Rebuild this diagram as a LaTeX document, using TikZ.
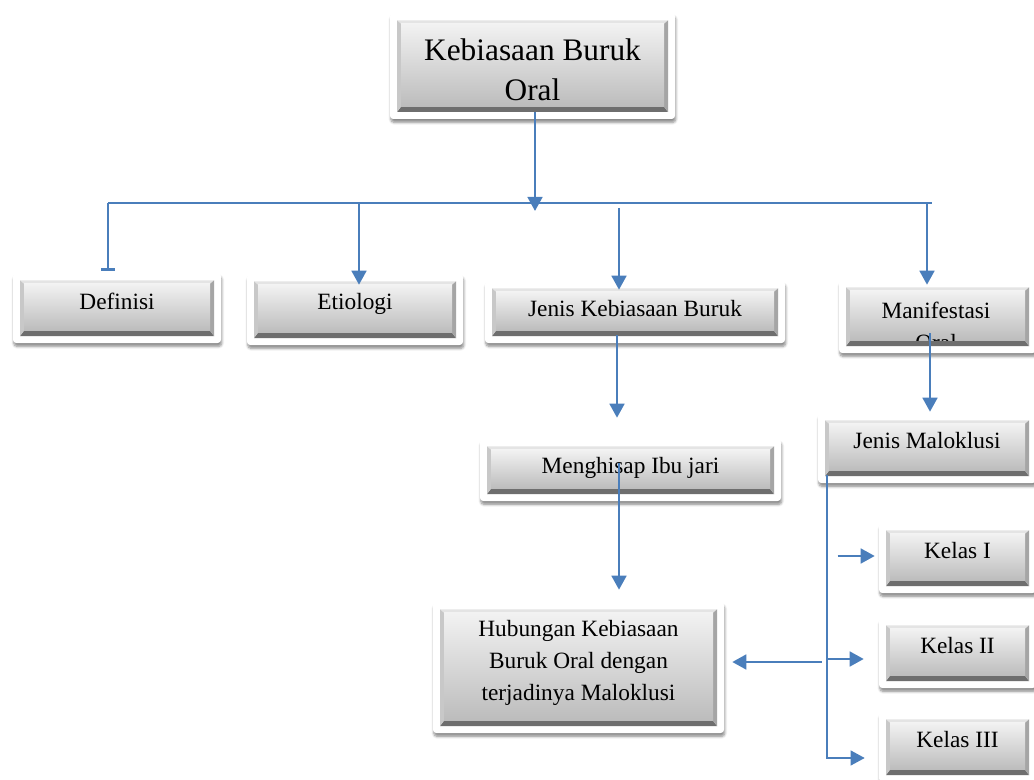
\documentclass[tikz,border=0pt]{standalone}
\usepackage{fontspec}
\setmainfont{Liberation Serif}
\usetikzlibrary{arrows.meta,positioning,calc,shadows.blur}

\definecolor{linkblue}{RGB}{74,126,187}
\definecolor{bevtop}{RGB}{228,228,228}
\definecolor{bevleft}{RGB}{200,200,200}
\definecolor{bevright}{RGB}{165,165,165}
\definecolor{bevbot}{RGB}{110,110,110}
\definecolor{facetop}{RGB}{242,242,242}
\definecolor{facebot}{RGB}{188,188,188}

\tikzset{
  bevelbox/.style={rectangle, rounded corners=2.5pt, fill=white, inner sep=0pt, align=center,
    font=\fontsize{17.5}{24}\selectfont,
    blur shadow={shadow xshift=0.6pt, shadow yshift=-2.6pt, shadow blur steps=6, shadow opacity=45},
    path picture={
      \coordinate (bsw) at ([shift={(5.25pt,5.25pt)}]path picture bounding box.south west);
      \coordinate (bne) at ([shift={(-5.25pt,-5.6pt)}]path picture bounding box.north east);
      \coordinate (bnw) at (bsw |- bne);
      \coordinate (bse) at (bne |- bsw);
      \coordinate (fsw) at ([shift={(3pt,4pt)}]bsw);
      \coordinate (fne) at ([shift={(-3pt,-2.5pt)}]bne);
      \coordinate (fnw) at (fsw |- fne);
      \coordinate (fse) at (fne |- fsw);
      \fill[bevtop, sharp corners] (bnw) -- (bne) -- (fne) -- (fnw) -- cycle;
      \fill[bevbot, sharp corners] (bsw) -- (bse) -- (fse) -- (fsw) -- cycle;
      \fill[bevleft, sharp corners] (bsw) -- (bnw) -- (fnw) -- (fsw) -- cycle;
      \fill[bevright, sharp corners] (bse) -- (bne) -- (fne) -- (fse) -- cycle;
      \shade[top color=facetop, bottom color=facebot, sharp corners] (fsw) rectangle (fne);
    }},
  onerow/.style={text height=12pt, text depth=#1},
  flow/.style={draw=linkblue, line width=1.9pt, -{Triangle[width=11pt,length=10.5pt]}},
  bus/.style={draw=linkblue, line width=1.5pt}
}

\begin{document}
\begin{tikzpicture}[x=0.75pt,y=-0.75pt]
\useasboundingbox (0,0) rectangle (1034,780);

% Top box
\node[bevelbox, minimum width=213.75pt, minimum height=79.5pt, font=\fontsize{23.5}{30}\selectfont] (top) at (532.5,66) {\rule{0pt}{22pt}Kebiasaan Buruk\\Oral};

% Second row
\node[bevelbox, onerow=9.5pt, minimum width=156pt, minimum height=52.5pt] (def) at (117,308) {Definisi};
\node[bevelbox, onerow=12pt, minimum width=162pt, minimum height=53.25pt] (eti) at (355,309.5) {Etiologi};
\node[bevelbox, onerow=5pt, minimum width=225pt, minimum height=46.5pt] (jenis) at (635,312) {Jenis Kebiasaan Buruk};
\node[bevelbox, minimum width=147.75pt, minimum height=54.75pt] (mani) at (937.5,316.5) {};
\begin{scope}
  \clip (848,290) rectangle (1027,340.5);
  \node[anchor=base, font=\fontsize{17.5}{24}\selectfont] (manitop) at (936,318.5) {Manifestasi};
  \node[anchor=base, font=\fontsize{17.5}{24}\selectfont] (manibot) at (936,350.5) {Oral};
\end{scope}

% Lower boxes
\node[bevelbox, onerow=6.5pt, minimum width=225.75pt, minimum height=46.5pt] (meng) at (630.5,470) {Menghisap Ibu jari};
\node[bevelbox, minimum width=218.25pt, minimum height=98.25pt] (hub) at (578.5,667.5) {Hubungan Kebiasaan\\Buruk Oral dengan\\terjadinya Maloklusi\rule[-11pt]{0pt}{0pt}};
\node[bevelbox, onerow=12pt, minimum width=163.5pt, minimum height=52.5pt] (jm) at (927,448) {Jenis Maloklusi};
\node[bevelbox, onerow=12pt, minimum width=117.75pt, minimum height=52.5pt] (k1) at (957.5,558) {Kelas I};
\node[bevelbox, onerow=12pt, minimum width=117.75pt, minimum height=52.5pt] (k2) at (957.5,653) {Kelas II};
\node[bevelbox, onerow=12pt, minimum width=117.75pt, minimum height=52.5pt] (k3) at (957.5,747) {Kelas III};

% Bus under the top box
\coordinate (bustip) at (535,211);
\coordinate (busl) at (108,203);
\coordinate (busr) at (932,203);
\coordinate (b2) at (359,203);
\coordinate (b3) at (619,208);
\coordinate (b4) at (927,203);
\draw[flow] ($(top.south)+(2.5,-7)$) -- (bustip);
\draw[bus] (busl) -- (busr);

% Drops to the second row
\draw[draw=linkblue, line width=1.9pt, -{Bar[width=10pt]}] (busl) -- ($(busl |- def.north)+(0,-2)$);
\draw[flow] (b2) -- ($(b2 |- eti.north)+(0,11)$);
\draw[flow] (b3) -- ($(b3 |- jenis.north)+(0,9)$);
\draw[flow] (b4) -- ($(b4 |- mani.north)+(0,5)$);

% Down the middle
\coordinate (j1) at ($(jenis.south)+(-18,-8)$);
\draw[flow] (j1) -- ($(j1 |- meng.north)+(0,-21)$);
\coordinate (m1) at ($(meng.center)+(-11.5,-7)$);
\draw[flow] (m1) -- ($(m1 |- hub.north)+(0,-12)$);

% Right column
\coordinate (n1) at ($(mani.south)+(-7.5,-20)$);
\draw[flow] (n1) -- ($(n1 |- jm.north)+(0,-1)$);
\coordinate (jmv) at ($(jm.south west)+(9,-8)$);
\coordinate (k1in) at ($(k1.west)+(-4,-2)$);
\coordinate (k2in) at ($(k2.west)+(-15,6)$);
\coordinate (k3in) at ($(k3.west)+(-14,11)$);
\coordinate (hubin) at ($(hub.east)+(8,-5.5)$);
\draw[bus, -{Triangle[width=11pt,length=10.5pt]}] (jmv) |- (k3in);
\draw[flow] (jmv |- k2in) -- (k2in);
\draw[flow] ($(k1in)+(-37,0)$) -- (k1in);
\draw[flow] ($(jmv |- hubin)+(-5,0)$) -- (hubin);
\end{tikzpicture}
\end{document}
